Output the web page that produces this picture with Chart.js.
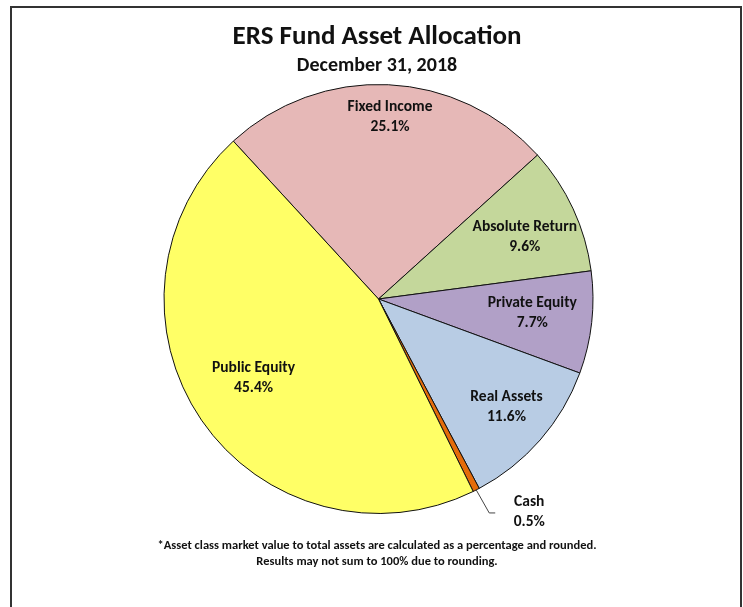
<!DOCTYPE html>
<html>
<head>
<meta charset="utf-8">
<script src="https://cdn.jsdelivr.net/npm/chart.js@4.4.1/dist/chart.umd.min.js"></script>
<style>
  body { margin: 0; background: #fff; }
  #wrap { position: relative; width: 743px; height: 607px; overflow: hidden; }
  #frame { position: absolute; left: 10px; top: 6px; width: 728px; height: 700px;
           border: 2px solid #333; border-bottom: none; }
  canvas { position: absolute; left: 0; top: 0; }
</style>
</head>
<body>
<div id="wrap">
  <div id="frame"></div>
  <canvas id="myChart" width="743" height="607"></canvas>
</div>
<script>
var labels = ["Fixed Income", "Absolute Return", "Private Equity", "Real Assets", "Cash", "Public Equity"];
var values = [25.1, 9.6, 7.7, 11.6, 0.5, 45.4];
var colors = ["#E6B8B7", "#C4D79B", "#B1A0C7", "#B8CCE4", "#E46C0A", "#FFFF66"];
var titleText = "ERS Fund Asset Allocation";
var subtitleText = "December 31, 2018";
var notes = ["*Asset class market value to total assets are calculated as a percentage and rounded.",
             "Results may not sum to 100% due to rounding."];

var FONT = "Carlito, 'Liberation Sans Narrow', 'Open Sans', sans-serif";

// where the text sits inside each slice (fraction of radius, angle nudge in degrees)
var labelPlace = [[0.85, 1], [0.74, 2], [0.72, -1], [0.78, -1], null, [0.69, 2]];

var textPlugin = {
    id: 'textPlugin',
    afterDraw: function(chart) {
        var ctx = chart.ctx;
        var arcs = chart.getDatasetMeta(0).data;
        ctx.save();
        ctx.fillStyle = "#111";
        ctx.textAlign = "center";
        ctx.textBaseline = "middle";

        ctx.font = "bold 27px " + FONT;
        ctx.fillText(titleText, 377, 37);
        ctx.font = "bold 20px " + FONT;
        ctx.fillText(subtitleText, 377, 66);

        ctx.font = "bold 15.5px " + FONT;
        for (var i = 0; i < arcs.length; i++) {
            var a = arcs[i];
            var txt = values[i].toFixed(1) + "%";
            if (labelPlace[i] == null) {
                // cash gets a leader line
                var mid = (a.startAngle + a.endAngle) / 2;
                var x0 = a.x + Math.cos(mid) * a.outerRadius;
                var y0 = a.y + Math.sin(mid) * a.outerRadius;
                ctx.strokeStyle = "#444";
                ctx.lineWidth = 1;
                ctx.beginPath();
                ctx.moveTo(x0, y0);
                ctx.lineTo(x0 + 13, y0 + 23);
                ctx.lineTo(x0 + 19, y0 + 23);
                ctx.stroke();
                ctx.fillText(labels[i], x0 + 53, y0 + 12);
                ctx.fillText(txt, x0 + 53, y0 + 32);
                continue;
            }
            var ang = (a.startAngle + a.endAngle) / 2 + labelPlace[i][1] * Math.PI / 180;
            var r = a.outerRadius * labelPlace[i][0];
            var cx = a.x + Math.cos(ang) * r;
            var cy = a.y + Math.sin(ang) * r;
            ctx.fillText(labels[i], cx, cy - 10);
            ctx.fillText(txt, cx, cy + 10);
        }

        ctx.font = "bold 12.5px " + FONT;
        ctx.fillText(notes[0], 377, 546);
        ctx.fillText(notes[1], 377, 562);
        ctx.restore();
    }
};

var ctx = document.getElementById('myChart').getContext('2d');
var myPie = new Chart(ctx, {
    type: 'pie',
    data: {
        labels: labels,
        datasets: [{
            data: values,
            backgroundColor: colors,
            borderColor: "#111",
            borderWidth: 1
        }]
    },
    options: {
        responsive: false,
        animation: false,
        rotation: -42.6,
        layout: { padding: { left: 163, right: 149, top: 84, bottom: 93 } },
        plugins: {
            legend: { display: false },
            tooltip: { enabled: false }
        }
    },
    plugins: [textPlugin]
});
</script>
</body>
</html>
